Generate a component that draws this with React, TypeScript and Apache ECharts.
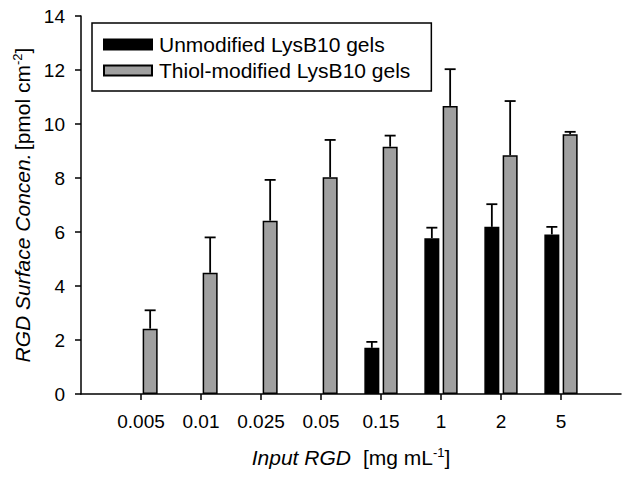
import React, { useEffect, useRef } from "react";
import * as echarts from "echarts";

const categories = ["", "0.005", "0.01", "0.025", "0.05", "0.15", "1", "2", "5", ""];
const unmodified = [null, null, null, null, null, 1.71, 5.77, 6.19, 5.91, null];
const unmodifiedErrTop = [null, null, null, null, null, 1.93, 6.16, 7.03, 6.19, null];
const thiol = [null, 2.42, 4.49, 6.42, 8.03, 9.16, 10.67, 8.84, 9.62, null];
const thiolErrTop = [null, 3.1, 5.8, 7.93, 9.41, 9.57, 12.03, 10.85, 9.71, null];
const yTicks = { min: 0, max: 14, interval: 2 };

const FONT = "'Liberation Sans', Arial, sans-serif";
const BAR_W = 15;
const GAP = 0.22;

function errData(vals: (number | null)[], tops: (number | null)[]) {
  const out: any[] = [];
  vals.forEach((v, i) => {
    if (v != null && tops[i] != null) out.push([i, v, tops[i]]);
  });
  return out;
}

function makeErr(sign: number) {
  const off = sign * (BAR_W * (1 + GAP)) / 2;
  return (params: any, api: any) => {
    const p0 = api.coord([api.value(0), api.value(1)]);
    const p1 = api.coord([api.value(0), api.value(2)]);
    const x = p0[0] + off;
    const style = { stroke: "#000", lineWidth: 1.8 };
    return {
      type: "group",
      children: [
        { type: "line", shape: { x1: x, y1: p0[1], x2: x, y2: p1[1] }, style },
        { type: "line", shape: { x1: x - 5.5, y1: p1[1], x2: x + 5.5, y2: p1[1] }, style },
      ],
    };
  };
}

const nameRich = {
  i: { fontFamily: FONT, fontSize: 21, fontStyle: "italic", color: "#000" },
  n: { fontFamily: FONT, fontSize: 21, color: "#000" },
  g: { width: 12 },
  s: { fontFamily: FONT, fontSize: 13, color: "#000", verticalAlign: "top", padding: [0, 0, 9, 0] },
};

export default function App() {
  const ref = useRef<HTMLDivElement>(null);
  useEffect(() => {
    const chart = echarts.init(ref.current!, undefined, { renderer: "svg" });
    chart.setOption({
      animation: false,
      backgroundColor: "#fff",
      textStyle: { fontFamily: FONT, color: "#000" },
      grid: { left: 81, right: 8, top: 16, bottom: 83 },
      legend: {
        orient: "vertical",
        left: 92,
        top: 23,
        padding: [11, 21, 10, 11],
        itemWidth: 48,
        itemHeight: 10,
        itemGap: 5,
        borderColor: "#000",
        borderWidth: 1.5,
        borderRadius: 0,
        icon: "rect",
        textStyle: { fontFamily: FONT, fontSize: 21, color: "#000", padding: [0, 0, 0, 2] },
        data: ["Unmodified LysB10 gels", "Thiol-modified LysB10 gels"],
      },
      xAxis: {
        type: "category",
        data: categories,
        boundaryGap: false,
        axisLine: { lineStyle: { color: "#000", width: 1.5 } },
        axisTick: {
          inside: false,
          length: 6,
          lineStyle: { color: "#000", width: 1.5 },
          interval: (i: number) => i > 0 && i < categories.length - 1,
        },
        axisLabel: { fontFamily: FONT, fontSize: 19, color: "#000", margin: 18, interval: 0 },
        splitLine: { show: false },
        name: "{i|Input RGD}{g|}{n|[mg mL}{s|-1}{n|]}",
        nameLocation: "middle",
        nameGap: 52,
        nameTextStyle: { rich: nameRich },
      },
      yAxis: {
        type: "value",
        min: yTicks.min,
        max: yTicks.max,
        interval: yTicks.interval,
        axisLine: { show: true, lineStyle: { color: "#000", width: 1.5 } },
        axisTick: { show: true, inside: false, length: 6, lineStyle: { color: "#000", width: 1.5 } },
        axisLabel: { fontFamily: FONT, fontSize: 19, color: "#000", margin: 16 },
        splitLine: { show: false },
        name: "{i|RGD Surface Concen.} {n|[pmol cm}{s|-2}{n|]}",
        nameLocation: "middle",
        nameGap: 48,
        nameTextStyle: { rich: nameRich },
      },
      series: [
        {
          name: "Unmodified LysB10 gels",
          type: "bar",
          data: unmodified,
          barWidth: BAR_W,
          barGap: GAP * 100 + "%",
          itemStyle: { color: "#000", borderColor: "#000", borderWidth: 1.5 },
        },
        {
          name: "Thiol-modified LysB10 gels",
          type: "bar",
          data: thiol,
          barWidth: BAR_W,
          barGap: GAP * 100 + "%",
          itemStyle: { color: "#a0a0a0", borderColor: "#000", borderWidth: 1.5 },
        },
        {
          type: "custom",
          renderItem: makeErr(-1),
          data: errData(unmodified, unmodifiedErrTop),
          z: 3,
          silent: true,
        },
        {
          type: "custom",
          renderItem: makeErr(1),
          data: errData(thiol, thiolErrTop),
          z: 3,
          silent: true,
        },
      ],
    });
    return () => chart.dispose();
  }, []);
  return (
    <div
      ref={ref}
      style={{ position: "absolute", left: 0, top: 0, width: 629, height: 477, background: "#fff" }}
    />
  );
}
